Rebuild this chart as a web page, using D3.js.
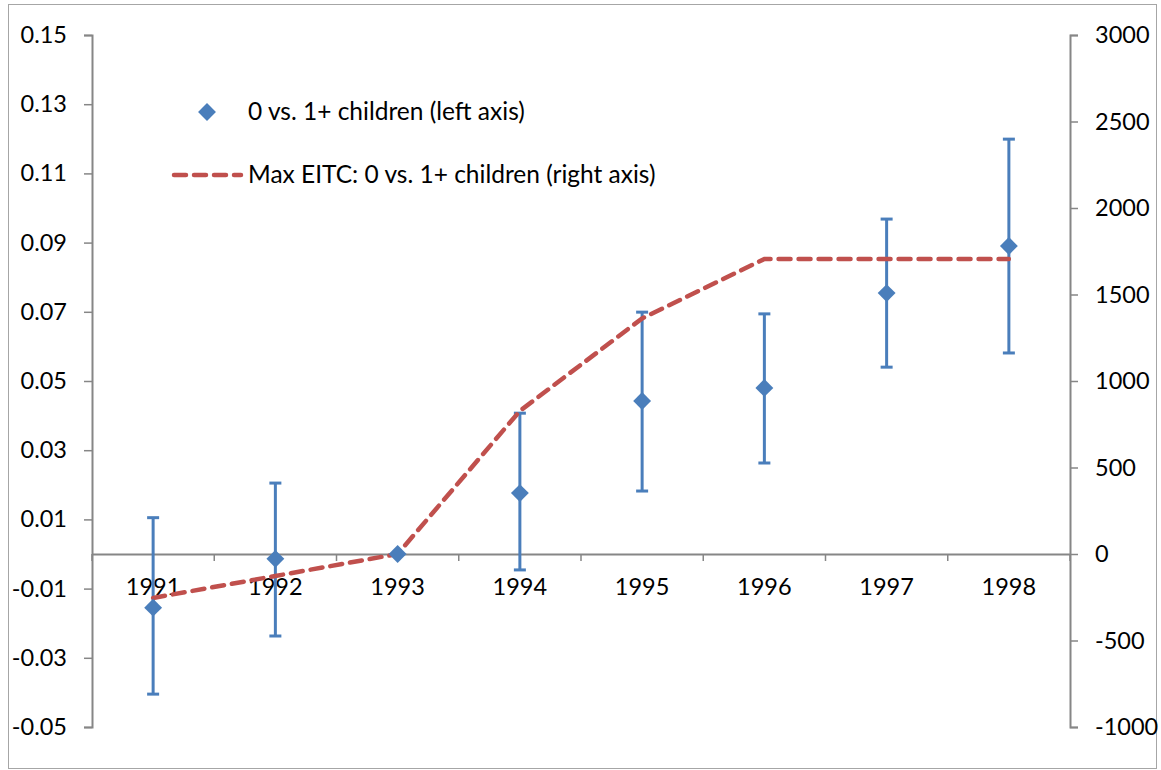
<!DOCTYPE html>
<html>
<head>
<meta charset="utf-8">
<script src="https://cdn.jsdelivr.net/npm/d3@7"></script>
<style>
  body { margin: 0; background: #fff; }
  text { font-family: Lato, "Open Sans", sans-serif; fill: #000; }
</style>
</head>
<body>
<svg id="svg" width="1161" height="770"></svg>
<script>
const years = ['1991', '1992', '1993', '1994', '1995', '1996', '1997', '1998']
// left axis: point estimate and its confidence bounds
const estimate = [-0.0155, -0.0014, 0.0, 0.0176, 0.0442, 0.0480, 0.0754, 0.0890]
const lower = [-0.0405, -0.0237, 0.0, -0.0046, 0.0182, 0.0263, 0.0540, 0.0581]
const upper = [0.0105, 0.0205, 0.0, 0.0407, 0.0699, 0.0694, 0.0968, 0.1199]
// right axis: max EITC difference
const maxEitc = [-254, -127, 0, 827, 1362, 1705, 1705, 1705]
const leftTicks = [0.15, 0.13, 0.11, 0.09, 0.07, 0.05, 0.03, 0.01, -0.01, -0.03, -0.05]
const rightTicks = [3000, 2500, 2000, 1500, 1000, 500, 0, -500, -1000]

const blue = '#4a7ebb'
const red = '#c0504d'
const grey = '#868686'
const fs = '23.5px'

const points = years.map((y, i) => ({
    year: y, est: estimate[i], lo: lower[i], hi: upper[i], eitc: maxEitc[i]
}))

const svg = d3.select('#svg')

// outer chart border
svg.append('rect')
    .attr('x', 8.5).attr('y', 4.5)
    .attr('width', 1148).attr('height', 764)
    .attr('fill', 'none')
    .attr('stroke', '#a6a6a6')

const x = d3.scaleBand().domain(years).range([92, 1070])
const yL = d3.scaleLinear().domain([-0.05, 0.15]).range([727, 35])
const yR = d3.scaleLinear().domain([-1000, 3000]).range([727, 35])
const hyphen = (f) => (d) => f(d).replace('\u2212', '-')

// left axis
const gL = svg.append('g')
    .attr('transform', 'translate(92,0)')
    .call(d3.axisLeft(yL).tickValues(leftTicks).tickSize(8).tickPadding(17)
        .tickFormat(hyphen(d3.format('.2f'))))
gL.selectAll('text').style('font-size', fs)

// right axis
const gR = svg.append('g')
    .attr('transform', 'translate(1070,0)')
    .call(d3.axisRight(yR).tickValues(rightTicks).tickSize(8).tickPadding(17)
        .tickFormat(hyphen(d3.format('d'))))
gR.selectAll('text').style('font-size', fs)

// category axis along zero
const gX = svg.append('g')
    .attr('transform', `translate(0,${yL(0)})`)
    .call(d3.axisBottom(x).tickSize(0).tickPadding(24))
gX.selectAll('text').style('font-size', fs)
gX.selectAll('.tick')
    .append('line')
    .attr('x1', -x.bandwidth() / 2).attr('x2', -x.bandwidth() / 2)
    .attr('y1', 0).attr('y2', 7)
gX.append('line')
    .attr('x1', 1070).attr('x2', 1070).attr('y1', 0).attr('y2', 7)

svg.selectAll('.domain, .tick line, g > line').attr('stroke', grey).attr('stroke-width', 1.5)
svg.selectAll('.domain').attr('stroke-width', 2)

const cx = (d) => x(d.year) + x.bandwidth() / 2

// error bars
const bars = svg.append('g').selectAll('g')
    .data(points.filter((d) => d.hi !== d.lo))
    .enter()
    .append('g')
    .attr('stroke', blue)
    .attr('stroke-width', 3)
bars.append('line')
    .attr('x1', cx).attr('x2', cx)
    .attr('y1', (d) => yL(d.lo)).attr('y2', (d) => yL(d.hi))
bars.append('line')
    .attr('x1', (d) => cx(d) - 6).attr('x2', (d) => cx(d) + 6)
    .attr('y1', (d) => yL(d.hi)).attr('y2', (d) => yL(d.hi))
bars.append('line')
    .attr('x1', (d) => cx(d) - 6).attr('x2', (d) => cx(d) + 6)
    .attr('y1', (d) => yL(d.lo)).attr('y2', (d) => yL(d.lo))

// EITC dashed line
const line = d3.line()
    .x(cx)
    .y((d) => yR(d.eitc))
svg.append('path')
    .datum(points)
    .attr('d', line)
    .attr('fill', 'none')
    .attr('stroke', red)
    .attr('stroke-width', 4.5)
    .attr('stroke-dasharray', '12 8')
    .attr('stroke-linecap', 'round')

// diamonds
const diamond = d3.symbol().type(d3.symbolSquare).size(160)
svg.append('g').selectAll('path')
    .data(points)
    .enter()
    .append('path')
    .attr('d', diamond)
    .attr('transform', (d) => `translate(${cx(d)},${yL(d.est)}) rotate(45)`)
    .attr('fill', blue)

// legend
const legend = svg.append('g')
legend.append('path')
    .attr('d', diamond)
    .attr('transform', 'translate(207,112) rotate(45)')
    .attr('fill', blue)
legend.append('text')
    .attr('x', 248).attr('y', 120)
    .style('font-size', '24.5px')
    .text('0 vs. 1+ children (left axis)')
legend.append('line')
    .attr('x1', 174).attr('x2', 241)
    .attr('y1', 175).attr('y2', 175)
    .attr('stroke', red)
    .attr('stroke-width', 4.5)
    .attr('stroke-dasharray', '12 8')
    .attr('stroke-linecap', 'round')
legend.append('text')
    .attr('x', 248).attr('y', 183)
    .style('font-size', '24.5px')
    .text('Max EITC: 0 vs. 1+ children (right axis)')
</script>
</body>
</html>
